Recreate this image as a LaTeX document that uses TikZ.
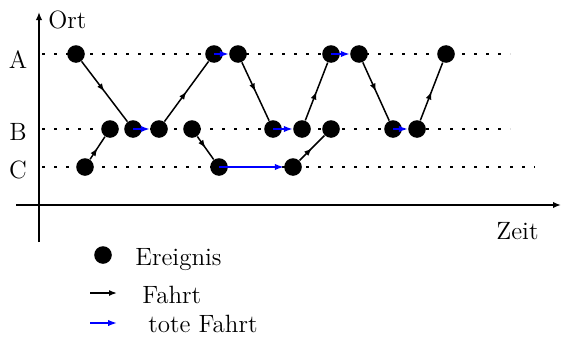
\documentclass[tikz,border=0pt]{standalone}
\usetikzlibrary{arrows.meta,decorations.markings}
\begin{document}
\begin{tikzpicture}[x=0.5pt,y=-0.5pt,
  font=\fontsize{12.5}{15}\selectfont,
  ev/.style={circle,fill=black,minimum size=8.8pt,inner sep=0pt},
  gridline/.style={line width=0.85pt,dash pattern=on 1.3pt off 4.7pt},
  axis/.style={line width=0.85pt,-{Latex[length=4pt,width=3.2pt]}},
  fahrt/.style={line width=0.75pt,postaction={decorate},
    decoration={markings,mark=at position 0.5 with {\arrow{Latex[length=4pt,width=3pt]}}}},
  tote/.style={line width=0.75pt,blue,-{Latex[length=4.5pt,width=3.2pt]}},
  txt/.style={inner sep=0pt,anchor=base west},
  rowlbl/.style={inner sep=0pt,anchor=base}]
\useasboundingbox (0,0) rectangle (561,337);

% axes
\coordinate (yb) at (39,242);
\coordinate (yt) at (39,12);
\coordinate (xl) at (16,205);
\coordinate (xr) at (561,205);
\draw[axis] (yb) -- (yt);
\draw[axis] (xl) -- (xr);
\node[txt] (ort) at (48,28) {Ort};
\node[txt] (zeit) at (496,239) {Zeit};

% rows
\coordinate (aL) at (42,54);  \coordinate (aR) at (510,54);
\coordinate (bL) at (42,129); \coordinate (bR) at (510,129);
\coordinate (cL) at (42,167); \coordinate (cR) at (535,167);
\draw[gridline] (aL) -- (aR);
\draw[gridline] (bL) -- (bR);
\draw[gridline] (cL) -- (cR);
\node[rowlbl] (la) at (18,68) {A};
\node[rowlbl] (lb) at (18,140) {B};
\node[rowlbl] (lc) at (18,178) {C};

% events
\node[ev] (a1) at (76,54) {};
\node[ev] (a2) at (214,54) {};
\node[ev] (a3) at (238,54) {};
\node[ev] (a4) at (331,54) {};
\node[ev] (a5) at (359,54) {};
\node[ev] (a6) at (446,54) {};
\node[ev] (b1) at (110,129) {};
\node[ev] (b2) at (133,129) {};
\node[ev] (b3) at (159,129) {};
\node[ev] (b4) at (192,129) {};
\node[ev] (b5) at (273,129) {};
\node[ev] (b6) at (302,129) {};
\node[ev] (b7) at (331,129) {};
\node[ev] (b8) at (393,129) {};
\node[ev] (b9) at (417,129) {};
\node[ev] (c1) at (85,167) {};
\node[ev] (c2) at (219,167) {};
\node[ev] (c3) at (293,167) {};

% Fahrten
\draw[fahrt] (a1) -- (b2);
\draw[fahrt] (c1) -- (b1);
\draw[fahrt] (b3) -- (a2);
\draw[fahrt] (a3) -- (b5);
\draw[fahrt] (b4) -- (c2);
\draw[fahrt] (b6) -- (a4);
\draw[fahrt] (a5) -- (b8);
\draw[fahrt] (c3) -- (b7);
\draw[fahrt] (b9) -- (a6);

% tote Fahrten
\draw[tote] (b2.center) -- (b3);
\draw[tote] (a2.center) -- (a3);
\draw[tote] (c2.center) -- (c3);
\draw[tote] (b5.center) -- (b6);
\draw[tote] (a4.center) -- (a5);
\draw[tote] (b8.center) -- (b9);

% legend
\node[ev] (lev) at (103,255) {};
\node[txt] (tev) at (135,265) {Ereignis};
\coordinate (f1) at (90,293); \coordinate (f2) at (117,293);
\draw[line width=0.75pt,-{Latex[length=4pt,width=3pt]}] (f1) -- (f2);
\node[txt] (tf) at (142,303) {Fahrt};
\coordinate (t1) at (90,323); \coordinate (t2) at (117,323);
\draw[tote] (t1) -- (t2);
\node[txt] (tt) at (148,332) {tote Fahrt};
\end{tikzpicture}
\end{document}
